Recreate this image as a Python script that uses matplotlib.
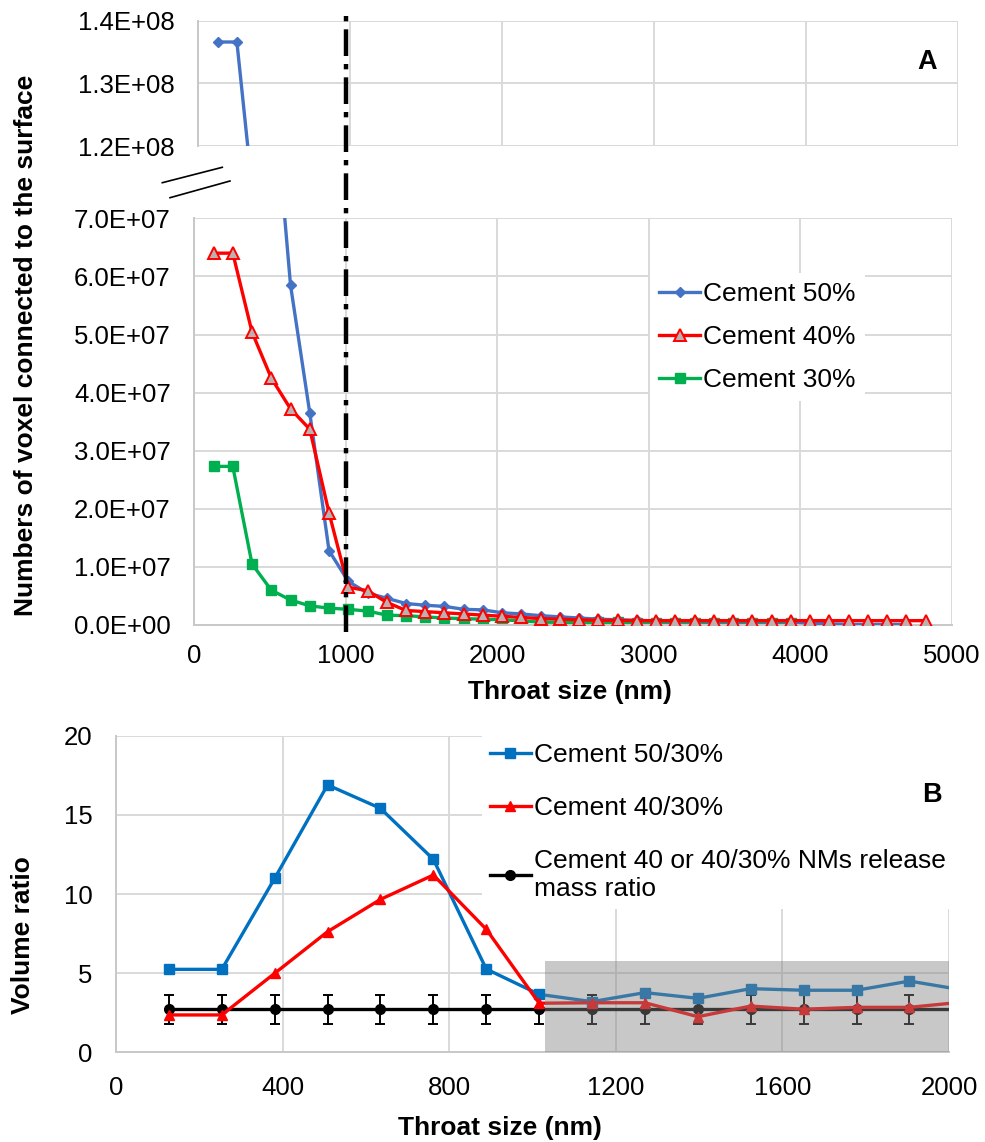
import matplotlib
matplotlib.use('Agg')
import matplotlib.pyplot as plt
from matplotlib.lines import Line2D
from matplotlib.patches import Rectangle
from matplotlib.ticker import FuncFormatter, MultipleLocator
from matplotlib.transforms import blended_transform_factory

plt.rcParams['font.family'] = ['Liberation Sans', 'DejaVu Sans']

# ---------------- data: panel A ----------------
throat_a = [127, 254, 381, 508, 635, 762, 889, 1016, 1143, 1270, 1397, 1524, 1651,
            1778, 1905, 2032, 2159, 2286, 2413, 2540, 2667, 2794, 2921, 3048, 3175,
            3302, 3429, 3556, 3683, 3810, 3937, 4064, 4191, 4318, 4445, 4572, 4699,
            4826]
cement50 = [1.366e8, 1.366e8, 1.07e8, 9.7e7, 5.85e7, 3.65e7, 1.28e7, 7.5e6, 5.5e6,
            4.6e6, 3.7e6, 3.4e6, 3.2e6, 2.7e6, 2.6e6, 2.1e6, 1.9e6, 1.6e6, 1.4e6,
            1.2e6, 1.0e6, 9.0e5, 8.0e5, 7.0e5, 7.0e5, 6.5e5, 6.0e5, 6.0e5, 6.0e5,
            6.0e5, 5.5e5, 3.0e5, 2.0e5, 1.0e5, 1.0e5, 1.0e5, 1.0e5]
cement40 = [6.4e7, 6.4e7, 5.04e7, 4.25e7, 3.72e7, 3.37e7, 1.93e7, 6.5e6, 5.9e6,
            3.9e6, 2.5e6, 2.3e6, 2.1e6, 1.9e6, 1.7e6, 1.5e6, 1.3e6, 1.1e6, 1.0e6,
            9.0e5, 8.0e5, 8.0e5, 7.5e5, 7.5e5, 7.5e5, 7.5e5, 7.5e5, 7.5e5, 7.5e5,
            7.5e5, 7.5e5, 7.5e5, 7.5e5, 7.5e5, 7.5e5, 7.5e5, 7.5e5, 7.5e5]
cement30 = [2.73e7, 2.73e7, 1.05e7, 6.0e6, 4.3e6, 3.3e6, 2.9e6, 2.7e6, 2.4e6,
            1.7e6, 1.6e6, 1.4e6, 1.2e6, 1.1e6, 1.0e6, 9.0e5, 7.0e5, 5.0e5, 4.5e5,
            4.5e5, 4.5e5, 4.5e5, 4.0e5, 4.0e5, 4.0e5, 4.0e5, 4.0e5, 4.0e5, 4.0e5,
            4.0e5, 4.0e5]
labels_a = ['Cement 50%', 'Cement 40%', 'Cement 30%']
threshold_nm = 1000

# ---------------- data: panel B ----------------
throat_b = [127, 254, 381, 508, 635, 762, 889, 1016, 1143, 1270, 1397, 1524, 1651,
            1778, 1905, 2032]
ratio_50_30 = [5.24, 5.24, 10.99, 16.89, 15.41, 12.19, 5.26, 3.66, 3.2, 3.77, 3.41,
               4.02, 3.92, 3.92, 4.5, 3.94]
ratio_40_30 = [2.36, 2.36, 4.99, 7.62, 9.66, 11.2, 7.77, 3.1, 3.13, 3.13, 2.25, 2.92,
               2.72, 2.84, 2.84, 3.17]
mass_ratio = [2.72] * 16
mass_err = [0.93] * 16
labels_b = ['Cement 50/30%', 'Cement 40/30%',
            'Cement 40 or 40/30% NMs release\nmass ratio']
shade_x = (1030, 2000)
shade_ymax = 5.77

# ---------------- figure ----------------
W, H = 985, 1142
fig = plt.figure(figsize=(W / 100, H / 100), dpi=100)


def fr(l, t, r, b):
    return [l / W, 1 - b / H, (r - l) / W, (b - t) / H]


FS = 18.5
LFS = 19
GRID = '#D9D9D9'
SPINE = '#C8C8C8'

ax_top = fig.add_axes(fr(198.3, 20.7, 958, 146))
ax_mid = fig.add_axes(fr(194.3, 218.3, 952, 625))
ax_b = fig.add_axes(fr(116, 735.7, 949, 1052.3))

sci = FuncFormatter(lambda v, p: format(v, '.1E'))

for ax in (ax_top, ax_mid, ax_b):
    ax.set_axisbelow(True)
    ax.grid(True, color=GRID, lw=1.4)
    for s in ('top', 'right'):
        ax.spines[s].set_visible(False)
    for s in ('left', 'bottom'):
        ax.spines[s].set_color(SPINE)
        ax.spines[s].set_linewidth(1.4)
    ax.tick_params(length=0, labelsize=FS, colors='black')

# top (broken) part of A
ax_top.plot(throat_a[:len(cement50)], cement50, color='#4472C4', lw=2.4,
            marker='D', ms=5)
ax_top.set_xlim(0, 5000)
ax_top.set_ylim(1.2e8, 1.4e8)
ax_top.xaxis.set_major_locator(MultipleLocator(1000))
ax_top.yaxis.set_major_locator(MultipleLocator(1e7))
ax_top.yaxis.set_major_formatter(sci)
ax_top.tick_params(axis='x', labelbottom=False)
ax_top.tick_params(axis='y', pad=17)
ax_top.spines['bottom'].set_visible(False)

# middle part of A
l50, = ax_mid.plot(throat_a[:len(cement50)], cement50, color='#4472C4', lw=2.4,
                   marker='D', ms=5, zorder=3)
l40, = ax_mid.plot(throat_a[:len(cement40)], cement40, color='#FF0000', lw=2.4,
                   marker='^', ms=8, mfc='#BDB0B0', mec='#FF0000', mew=1.4, zorder=4)
l30, = ax_mid.plot(throat_a[:len(cement30)], cement30, color='#00B050', lw=2.4,
                   marker='s', ms=7, zorder=2)
ax_mid.set_xlim(0, 5000)
ax_mid.set_ylim(0, 7e7)
ax_mid.xaxis.set_major_locator(MultipleLocator(1000))
ax_mid.yaxis.set_major_locator(MultipleLocator(1e7))
ax_mid.yaxis.set_major_formatter(sci)
ax_mid.tick_params(axis='y', pad=17)
ax_mid.tick_params(axis='x', pad=14)

leg_a = ax_mid.legend([l50, l40, l30], labels_a, loc='upper left',
                      bbox_to_anchor=(650 / W, 1 - 273 / H),
                      bbox_transform=fig.transFigure, fontsize=LFS,
                      frameon=True, facecolor='white', edgecolor='none',
                      framealpha=1, fancybox=False, handlelength=1.55,
                      handletextpad=0.12, labelspacing=0.72, borderpad=0.35,
                      borderaxespad=0)

# dash-dot threshold line across both A axes
tr = blended_transform_factory(ax_mid.transData, fig.transFigure)
fig.add_artist(Line2D([threshold_nm, threshold_nm], [1 - 632 / H, 1 - 15 / H],
                      transform=tr, color='black', lw=3.2,
                      ls=(0, (6, 1.8, 1.2, 1.8)), solid_capstyle='butt',
                      dash_capstyle='butt'))

# break marks
for (x0, y0, x1, y1) in [(162.3, 182.7, 222.3, 167.3), (170, 197.7, 230, 181)]:
    fig.add_artist(Line2D([x0 / W, x1 / W], [1 - y0 / H, 1 - y1 / H],
                          transform=fig.transFigure, color='black', lw=1.2))

fig.text(26 / W, 1 - 345 / H, 'Numbers of voxel connected to the surface',
         rotation=90, ha='center', va='center', fontsize=19, fontweight='bold')
fig.text(570 / W, 1 - 692 / H, 'Throat size (nm)', ha='center', va='center',
         fontsize=19, fontweight='bold')
fig.text(927 / W, 1 - 62 / H, 'A', ha='center', va='center', fontsize=19.5,
         fontweight='bold')

# ---------------- panel B ----------------
eb = ax_b.errorbar(throat_b, mass_ratio, yerr=mass_err, color='black', lw=2.4,
                   marker='o', ms=7, capsize=3.5, elinewidth=1.4, capthick=1.4,
                   zorder=2)
b50, = ax_b.plot(throat_b, ratio_50_30, color='#0070C0', lw=2.4, marker='s', ms=7,
                 zorder=3)
b40, = ax_b.plot(throat_b, ratio_40_30, color='#FF0000', lw=2.4, marker='^', ms=7,
                 zorder=4)
ax_b.add_patch(Rectangle((shade_x[0], 0), shade_x[1] - shade_x[0], shade_ymax,
                         facecolor=(131 / 255, 131 / 255, 131 / 255), alpha=0.44,
                         edgecolor='none', zorder=6))
ax_b.set_xlim(0, 2000)
ax_b.set_ylim(0, 20)
ax_b.xaxis.set_major_locator(MultipleLocator(400))
ax_b.yaxis.set_major_locator(MultipleLocator(5))
ax_b.tick_params(axis='y', pad=17)
ax_b.tick_params(axis='x', pad=17)

black_handle = Line2D([], [], color='black', lw=2.4, marker='o', ms=7)
leg_b = ax_b.legend([b50, b40, black_handle], labels_b, loc='upper left',
                    bbox_to_anchor=(482 / W, 1 - 735 / H),
                    bbox_transform=fig.transFigure, fontsize=LFS,
                    frameon=True, facecolor='white', edgecolor='none',
                    framealpha=1, fancybox=False, handlelength=1.55,
                    handletextpad=0.12, labelspacing=1.1, borderpad=0.3,
                    borderaxespad=0)
leg_b.set_zorder(7)

fig.text(23 / W, 1 - 935 / H, 'Volume ratio', rotation=90, ha='center',
         va='center', fontsize=19, fontweight='bold')
fig.text(500 / W, 1 - 1128 / H, 'Throat size (nm)', ha='center', va='center',
         fontsize=19, fontweight='bold')
fig.text(932 / W, 1 - 795 / H, 'B', ha='center', va='center', fontsize=19.5,
         fontweight='bold')

fig.savefig('out.png', dpi=100)
